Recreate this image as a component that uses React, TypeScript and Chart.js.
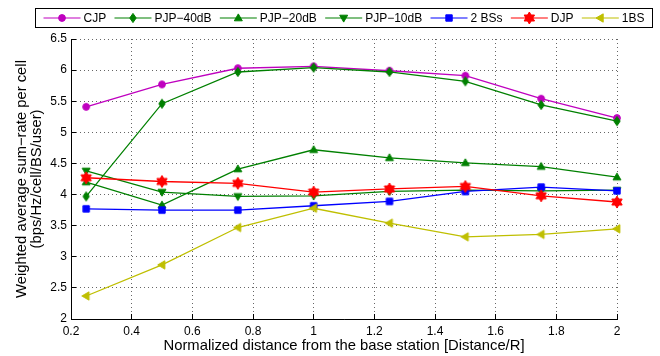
import React, { useEffect, useRef } from 'react';
import { Chart, registerables } from 'chart.js';

Chart.register(...registerables);

// ---------------- data ----------------
const distances = [0.25, 0.5, 0.75, 1, 1.25, 1.5, 1.75, 2];
const cjp = [5.41, 5.77, 6.03, 6.06, 5.99, 5.91, 5.54, 5.23];
const pjp40 = [3.97, 5.46, 5.97, 6.04, 5.97, 5.82, 5.44, 5.18];
const pjp20 = [4.2, 3.83, 4.41, 4.72, 4.59, 4.51, 4.45, 4.28];
const pjp10 = [4.38, 4.04, 3.97, 3.98, 4.05, 4.07, 4.06, 4.07];
const twoBSs = [3.77, 3.75, 3.75, 3.82, 3.89, 4.05, 4.12, 4.06];
const djp = [4.27, 4.21, 4.18, 4.04, 4.09, 4.13, 3.98, 3.88];
const oneBS = [2.37, 2.87, 3.47, 3.78, 3.54, 3.32, 3.36, 3.45];

const seriesLabels = ['CJP', 'PJP\u221240dB', 'PJP\u221220dB', 'PJP\u221210dB', '2 BSs', 'DJP', '1BS'];
const seriesValues = [cjp, pjp40, pjp20, pjp10, twoBSs, djp, oneBS];

const xTicks = [0.2, 0.4, 0.6, 0.8, 1, 1.2, 1.4, 1.6, 1.8, 2];
const yTicks = [2, 2.5, 3, 3.5, 4, 4.5, 5, 5.5, 6, 6.5];

const xTitle = 'Normalized distance from the base station [Distance/R]';
const yTitleLines = ['Weighted average sum\u2212rate per cell', '(bps/Hz/cell/BS/user)'];

// ---------------- styles ----------------
type MarkerKind = 'circle' | 'diamond' | 'triUp' | 'triDown' | 'square' | 'hexagram' | 'triLeft';
const seriesColors = ['#bf00bf', '#008000', '#008000', '#008000', '#0000ff', '#ff0000', '#bfbf00'];
const seriesMarkers: MarkerKind[] = ['circle', 'diamond', 'triUp', 'triDown', 'square', 'hexagram', 'triLeft'];
const FONT = '"Liberation Sans", Arial, Helvetica, sans-serif';

function polygon(ctx: CanvasRenderingContext2D, x: number, y: number, r: number, startDeg: number, n: number) {
  for (let k = 0; k < n; k++) {
    const a = ((startDeg + (360 / n) * k) * Math.PI) / 180;
    const px = x + r * Math.cos(a);
    const py = y + r * Math.sin(a);
    if (k === 0) ctx.moveTo(px, py);
    else ctx.lineTo(px, py);
  }
  ctx.closePath();
}

function drawMarker(ctx: CanvasRenderingContext2D, kind: MarkerKind, x: number, y: number, color: string) {
  ctx.save();
  ctx.fillStyle = color;
  ctx.strokeStyle = color;
  ctx.lineWidth = 1;
  ctx.beginPath();
  switch (kind) {
    case 'circle':
      ctx.arc(x, y, 3.4, 0, Math.PI * 2);
      break;
    case 'diamond':
      ctx.moveTo(x, y - 4.6);
      ctx.lineTo(x + 3.2, y);
      ctx.lineTo(x, y + 4.6);
      ctx.lineTo(x - 3.2, y);
      ctx.closePath();
      break;
    case 'triUp':
      polygon(ctx, x, y + 0.5, 4.6, -90, 3);
      break;
    case 'triDown':
      polygon(ctx, x, y - 0.5, 4.6, 90, 3);
      break;
    case 'triLeft':
      polygon(ctx, x + 0.5, y, 4.8, 180, 3);
      break;
    case 'square':
      ctx.rect(x - 3.2, y - 3.2, 6.4, 6.4);
      break;
    case 'hexagram':
      polygon(ctx, x, y, 6.0, -90, 3);
      polygon(ctx, x, y, 6.0, 90, 3);
      break;
  }
  ctx.fill();
  ctx.stroke();
  ctx.restore();
}

function markerCanvas(kind: MarkerKind, color: string): HTMLCanvasElement {
  const c = document.createElement('canvas');
  c.width = 16;
  c.height = 16;
  const ctx = c.getContext('2d')!;
  drawMarker(ctx, kind, 8, 8, color);
  return c;
}

function alignPx(p: number) {
  return Math.round(p - 0.5) + 0.5;
}

const decorPlugin = {
  id: 'decor',
  afterDraw(chart: any) {
    const ctx: CanvasRenderingContext2D = chart.ctx;
    const { left, right, top, bottom } = chart.chartArea;
    const xs = chart.scales.x;
    const ys = chart.scales.y;
    ctx.save();

    // inward tick marks
    ctx.strokeStyle = '#000';
    ctx.lineWidth = 1;
    ctx.beginPath();
    xTicks.forEach((v) => {
      const px = alignPx(xs.getPixelForValue(v));
      ctx.moveTo(px, bottom);
      ctx.lineTo(px, bottom - 5);
    });
    yTicks.forEach((v) => {
      const py = alignPx(ys.getPixelForValue(v));
      ctx.moveTo(left, py);
      ctx.lineTo(left + 5, py);
    });
    ctx.stroke();

    // axis titles
    ctx.fillStyle = '#000';
    ctx.font = `14.8px ${FONT}`;
    ctx.textAlign = 'center';
    ctx.textBaseline = 'middle';
    ctx.fillText(xTitle, (left + right) / 2, 346);

    ctx.save();
    ctx.translate(0, (top + bottom) / 2);
    ctx.rotate(-Math.PI / 2);
    ctx.fillText(yTitleLines[0], 0, 21.5);
    ctx.fillText(yTitleLines[1], 0, 36.5);
    ctx.restore();

    // legend
    const boxL = 35.5, boxT = 8.5, boxR = 652.5, boxB = 27.5;
    ctx.fillStyle = '#fff';
    ctx.fillRect(boxL, boxT, boxR - boxL, boxB - boxT);
    ctx.strokeStyle = '#000';
    ctx.lineWidth = 1;
    ctx.strokeRect(boxL, boxT, boxR - boxL, boxB - boxT);

    ctx.font = `12px ${FONT}`;
    ctx.textAlign = 'left';
    ctx.textBaseline = 'middle';
    const cy = (boxT + boxB) / 2;
    const widths = seriesLabels.map((l) => ctx.measureText(l).width);
    const lineLen = 37;
    const textOff = 40;
    const used = widths.reduce((a, b) => a + b, 0) + seriesLabels.length * textOff;
    const gap = (boxR - boxL - 16 - used) / (seriesLabels.length - 1);
    let x = boxL + 8;
    seriesLabels.forEach((label, i) => {
      const color = seriesColors[i];
      ctx.strokeStyle = color;
      ctx.lineWidth = 1.2;
      ctx.beginPath();
      ctx.moveTo(x, cy);
      ctx.lineTo(x + lineLen, cy);
      ctx.stroke();
      drawMarker(ctx, seriesMarkers[i], x + lineLen / 2, cy, color);
      ctx.fillStyle = '#000';
      ctx.fillText(label, x + textOff, cy + 0.5);
      x += textOff + widths[i] + gap;
    });

    ctx.restore();
  },
};

export default function App() {
  const canvasRef = useRef<HTMLCanvasElement | null>(null);

  useEffect(() => {
    const canvas = canvasRef.current;
    if (!canvas) return;
    const n = seriesLabels.length;
    const datasets = seriesLabels.map((label, i) => {
      const img = markerCanvas(seriesMarkers[i], seriesColors[i]);
      return {
        label,
        data: distances.map((d, j) => ({ x: d, y: seriesValues[i][j] })),
        borderColor: seriesColors[i],
        backgroundColor: seriesColors[i],
        borderWidth: 1.3,
        pointStyle: img as any,
        pointRadius: 5,
        pointHoverRadius: 5,
        tension: 0,
        fill: false,
        clip: false as any,
        order: n - i,
      };
    });

    const chart = new Chart(canvas, {
      type: 'line',
      data: { datasets },
      options: {
        animation: false,
        responsive: false,
        maintainAspectRatio: false,
        devicePixelRatio: 1,
        layout: { padding: { left: 0, right: 43, top: 39, bottom: 0 } },
        plugins: {
          legend: { display: false },
          tooltip: { enabled: false },
          title: { display: false },
        },
        events: [],
        scales: {
          x: {
            type: 'linear',
            min: 0.2,
            max: 2,
            afterFit: (s: any) => {
              s.height = 37;
            },
            afterBuildTicks: (s: any) => {
              s.ticks = xTicks.map((v) => ({ value: v }));
            },
            ticks: {
              autoSkip: false,
              maxRotation: 0,
              padding: 5,
              color: '#000',
              font: { family: FONT, size: 12 },
              callback: (v: any) => String(v),
            },
            grid: {
              color: 'rgba(0,0,0,0.6)',
              lineWidth: 1,
              drawTicks: false,
            },
            border: { display: true, color: '#000', width: 1, dash: [1, 3] },
          },
          y: {
            type: 'linear',
            min: 2,
            max: 6.5,
            afterFit: (s: any) => {
              s.width = 71;
            },
            afterBuildTicks: (s: any) => {
              s.ticks = yTicks.map((v) => ({ value: v }));
            },
            ticks: {
              autoSkip: false,
              padding: 4,
              color: '#000',
              font: { family: FONT, size: 12 },
              callback: (v: any) => String(v),
            },
            grid: {
              color: 'rgba(0,0,0,0.6)',
              lineWidth: 1,
              drawTicks: false,
            },
            border: { display: true, color: '#000', width: 1, dash: [1, 3] },
          },
        },
      },
      plugins: [decorPlugin],
    });

    return () => {
      chart.destroy();
    };
  }, []);

  return (
    <div style={{ position: 'absolute', left: 0, top: 0, width: 660, height: 356, background: '#fff' }}>
      <canvas ref={canvasRef} width={660} height={356} style={{ display: 'block', width: 660, height: 356 }} />
    </div>
  );
}
